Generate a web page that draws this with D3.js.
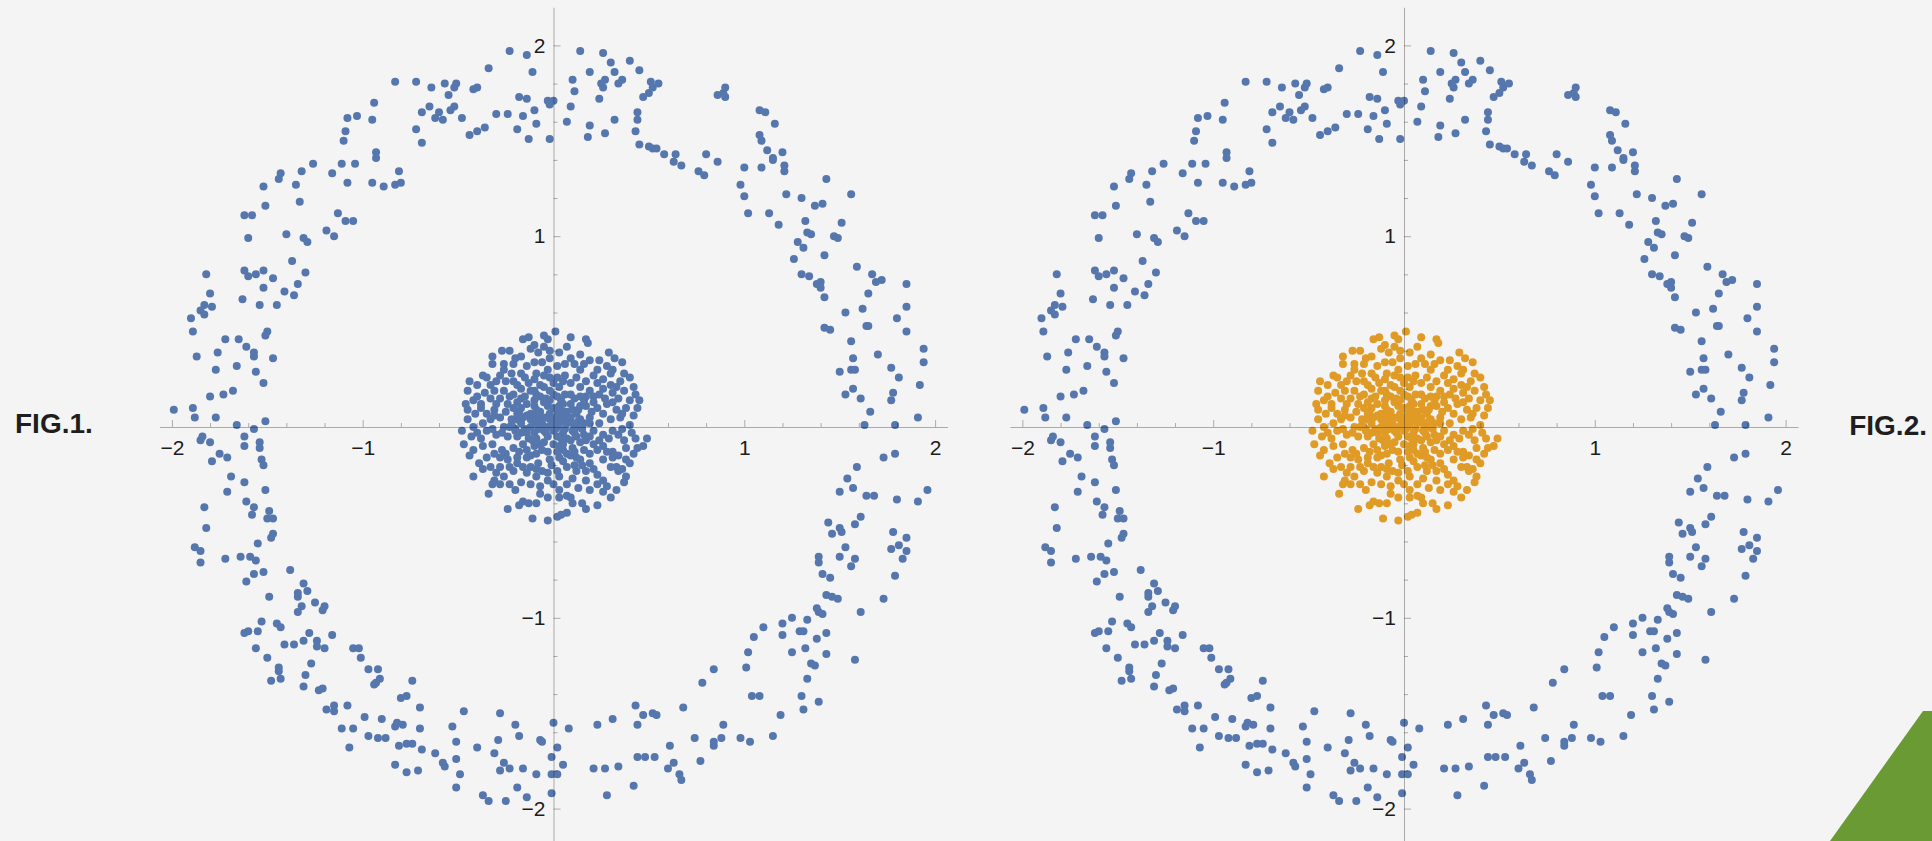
<!DOCTYPE html>
<html>
<head>
<meta charset="utf-8">
<script src="https://cdn.jsdelivr.net/npm/d3@7"></script>
<style>
  html, body { margin: 0; padding: 0; background: #f4f4f4; }
  svg { display: block; }
</style>
</head>
<body>
<svg id="chart" width="1932" height="841"></svg>
<script>
// Outer ring samples, split by quadrant
const ringNW = [[-0.23,1.97],[-0.14,1.95],[-0.11,1.86],[-0.34,1.88],[-0.83,1.81],[-0.72,1.81],[-0.64,1.78],[-0.57,1.80],[-0.51,1.80],[-0.52,1.78],[-0.55,1.74],[-0.42,1.77],[-0.40,1.78],[-0.18,1.73],[-0.14,1.72],[-0.03,1.71],[0.00,1.71],[-0.02,1.69],[-0.94,1.70],[-0.65,1.68],[-0.69,1.65],[-0.60,1.65],[-0.62,1.62],[-0.58,1.61],[-0.54,1.66],[-0.52,1.68],[-0.48,1.62],[-0.30,1.64],[-0.24,1.64],[-0.16,1.63],[-0.10,1.66],[-0.09,1.59],[-0.19,1.56],[-0.13,1.51],[-0.02,1.51],[-0.44,1.53],[-0.40,1.55],[-0.36,1.57],[-0.72,1.56],[-0.69,1.49],[-1.08,1.62],[-1.03,1.63],[-0.95,1.61],[-1.09,1.55],[-1.10,1.50],[-0.93,1.44],[-0.93,1.41],[-1.26,1.38],[-1.32,1.34],[-1.43,1.33],[-1.44,1.30],[-1.52,1.26],[-1.35,1.27],[-1.16,1.33],[-1.11,1.38],[-1.04,1.38],[-1.08,1.28],[-0.95,1.28],[-0.89,1.26],[-0.83,1.27],[-0.80,1.28],[-0.81,1.34],[-1.33,1.18],[-1.51,1.16],[-1.62,1.11],[-1.58,1.11],[-1.60,0.99],[-1.40,1.01],[-1.31,0.99],[-1.29,0.97],[-1.19,1.03],[-1.15,1.00],[-1.13,1.12],[-1.09,1.08],[-1.05,1.08],[-1.37,0.87],[-1.62,0.82],[-1.60,0.79],[-1.56,0.80],[-1.52,0.82],[-1.47,0.78],[-1.30,0.81],[-1.52,0.73],[-1.41,0.71],[-1.36,0.69],[-1.34,0.75],[-1.63,0.67],[-1.54,0.64],[-1.45,0.64],[-1.82,0.80],[-1.80,0.70],[-1.83,0.64],[-1.79,0.63],[-1.85,0.61],[-1.83,0.59],[-1.90,0.57],[-1.89,0.50],[-1.72,0.46],[-1.65,0.46],[-1.61,0.42],[-1.57,0.39],[-1.57,0.37],[-1.50,0.50],[-1.51,0.48],[-1.47,0.36],[-1.87,0.37],[-1.76,0.39],[-1.77,0.30],[-1.66,0.32],[-1.56,0.29],[-1.52,0.23],[-1.80,0.16],[-1.73,0.17],[-1.68,0.19],[-1.99,0.09],[-1.89,0.10],[-1.88,0.05],[-1.77,0.05],[-1.66,0.01],[-1.51,0.03],[-1.57,-0.01]];

const ringNE = [[0.14,1.97],[0.26,1.96],[0.30,1.91],[0.40,1.92],[0.19,1.86],[0.32,1.86],[0.45,1.87],[0.10,1.82],[0.25,1.80],[0.27,1.82],[0.36,1.82],[0.34,1.80],[0.26,1.78],[0.11,1.76],[0.51,1.81],[0.55,1.80],[0.52,1.78],[0.50,1.75],[0.47,1.73],[0.24,1.72],[0.09,1.68],[0.44,1.65],[0.44,1.61],[0.32,1.61],[0.07,1.60],[0.19,1.58],[0.18,1.52],[0.27,1.54],[0.43,1.55],[0.45,1.48],[0.50,1.47],[0.52,1.46],[0.54,1.46],[0.58,1.43],[0.64,1.43],[0.63,1.39],[0.67,1.37],[0.76,1.34],[0.79,1.32],[0.80,1.43],[0.86,1.39],[0.86,1.74],[0.89,1.75],[0.90,1.78],[0.90,1.73],[1.08,1.66],[1.11,1.65],[1.16,1.59],[1.08,1.53],[1.09,1.50],[1.12,1.45],[1.20,1.44],[1.15,1.41],[1.15,1.40],[1.21,1.37],[1.21,1.34],[1.09,1.36],[1.00,1.36],[0.98,1.27],[1.00,1.21],[1.02,1.12],[1.13,1.12],[1.18,1.06],[1.22,1.22],[1.30,1.20],[1.37,1.16],[1.41,1.17],[1.43,1.30],[1.56,1.22],[1.32,1.08],[1.33,1.02],[1.35,1.01],[1.28,0.97],[1.31,0.94],[1.26,0.88],[1.42,0.90],[1.47,1.00],[1.49,0.99],[1.51,1.07],[1.30,0.80],[1.34,0.79],[1.40,0.76],[1.38,0.75],[1.40,0.73],[1.42,0.68],[1.59,0.84],[1.67,0.80],[1.69,0.76],[1.72,0.77],[1.65,0.70],[1.85,0.75],[1.62,0.62],[1.85,0.63],[1.80,0.57],[1.53,0.60],[1.64,0.53],[1.65,0.53],[1.42,0.52],[1.45,0.51],[1.85,0.50],[1.56,0.45],[1.70,0.38],[1.94,0.41],[1.94,0.34],[1.50,0.29],[1.56,0.30],[1.58,0.30],[1.57,0.36],[1.77,0.31],[1.81,0.26],[1.92,0.22],[1.53,0.17],[1.57,0.20],[1.61,0.15],[1.78,0.18],[1.77,0.14],[1.66,0.08],[1.91,0.05],[1.63,0.01],[1.79,0.01]];

const ringSE = [[1.73,-0.16],[1.79,-0.14],[1.59,-0.21],[1.54,-0.27],[1.57,-0.32],[1.50,-0.34],[1.64,-0.36],[1.68,-0.36],[1.80,-0.38],[1.96,-0.33],[1.91,-0.39],[1.61,-0.47],[1.58,-0.51],[1.44,-0.50],[1.46,-0.56],[1.50,-0.53],[1.51,-0.55],[1.53,-0.63],[1.50,-0.68],[1.58,-0.69],[1.56,-0.73],[1.78,-0.55],[1.85,-0.58],[1.77,-0.64],[1.81,-0.62],[1.85,-0.65],[1.83,-0.69],[1.79,-0.78],[1.39,-0.68],[1.39,-0.71],[1.41,-0.77],[1.45,-0.79],[1.43,-0.88],[1.46,-0.89],[1.49,-0.90],[1.73,-0.90],[1.61,-0.97],[1.38,-0.95],[1.39,-0.97],[1.41,-0.98],[1.25,-1.00],[1.20,-1.03],[1.33,-1.01],[1.29,-1.07],[1.31,-1.07],[1.20,-1.09],[1.43,-1.08],[1.38,-1.11],[1.32,-1.16],[1.25,-1.18],[1.43,-1.19],[1.35,-1.24],[1.37,-1.25],[1.58,-1.22],[1.33,-1.32],[1.30,-1.41],[1.31,-1.48],[1.39,-1.44],[1.05,-1.10],[1.10,-1.05],[1.02,-1.18],[1.01,-1.26],[1.04,-1.41],[1.08,-1.41],[0.84,-1.27],[0.78,-1.34],[1.19,-1.51],[1.15,-1.62],[0.98,-1.63],[1.03,-1.65],[0.89,-1.56],[0.88,-1.63],[0.84,-1.65],[0.84,-1.67],[0.74,-1.63],[0.68,-1.47],[0.77,-1.75],[0.61,-1.67],[0.63,-1.76],[0.60,-1.79],[0.66,-1.82],[0.67,-1.85],[0.43,-1.46],[0.44,-1.56],[0.47,-1.51],[0.52,-1.50],[0.54,-1.51],[0.31,-1.53],[0.23,-1.56],[0.08,-1.58],[0.44,-1.73],[0.48,-1.73],[0.53,-1.73],[0.34,-1.78],[0.27,-1.79],[0.21,-1.79],[0.42,-1.88],[0.28,-1.93],[0.05,-1.77]];

const ringSW = [[-1.85,-0.07],[-1.84,-0.05],[-1.80,-0.08],[-1.79,-0.18],[-1.75,-0.14],[-1.71,-0.16],[-1.62,-0.05],[-1.62,-0.10],[-1.54,-0.08],[-1.54,-0.11],[-1.53,-0.17],[-1.52,-0.20],[-1.69,-0.26],[-1.71,-0.34],[-1.62,-0.29],[-1.61,-0.39],[-1.57,-0.42],[-1.58,-0.46],[-1.51,-0.33],[-1.49,-0.44],[-1.50,-0.48],[-1.47,-0.48],[-1.47,-0.56],[-1.48,-0.58],[-1.83,-0.42],[-1.82,-0.53],[-1.88,-0.63],[-1.85,-0.65],[-1.85,-0.71],[-1.72,-0.69],[-1.64,-0.68],[-1.59,-0.68],[-1.56,-0.70],[-1.55,-0.61],[-1.52,-0.76],[-1.57,-0.77],[-1.61,-0.81],[-1.38,-0.75],[-1.49,-0.89],[-1.31,-0.82],[-1.29,-0.86],[-1.34,-0.87],[-1.34,-0.89],[-1.25,-0.92],[-1.20,-0.94],[-1.21,-0.96],[-1.32,-0.94],[-1.34,-0.97],[-1.53,-1.02],[-1.45,-1.03],[-1.43,-1.05],[-1.62,-1.08],[-1.60,-1.07],[-1.55,-1.07],[-1.56,-1.16],[-1.50,-1.21],[-1.41,-1.14],[-1.36,-1.14],[-1.31,-1.12],[-1.28,-1.08],[-1.24,-1.12],[-1.24,-1.15],[-1.20,-1.16],[-1.16,-1.09],[-1.27,-1.24],[-1.44,-1.26],[-1.44,-1.28],[-1.48,-1.33],[-1.43,-1.32],[-1.30,-1.30],[-1.31,-1.36],[-1.23,-1.38],[-1.21,-1.37],[-1.05,-1.16],[-1.02,-1.16],[-1.01,-1.21],[-0.97,-1.27],[-0.92,-1.27],[-0.91,-1.32],[-0.93,-1.34],[-0.94,-1.35],[-0.74,-1.33],[-0.80,-1.42],[-0.77,-1.41],[-1.19,-1.48],[-1.15,-1.46],[-1.15,-1.49],[-1.08,-1.46],[-1.11,-1.58],[-1.05,-1.58],[-1.07,-1.68],[-0.99,-1.52],[-0.97,-1.62],[-0.92,-1.63],[-0.88,-1.63],[-0.90,-1.53],[-0.83,-1.57],[-0.82,-1.55],[-0.79,-1.56],[-0.70,-1.47],[-0.70,-1.58],[-0.81,-1.67],[-0.77,-1.66],[-0.74,-1.66],[-0.69,-1.69],[-0.83,-1.77],[-0.77,-1.81],[-0.71,-1.80],[-0.62,-1.71],[-0.58,-1.76],[-0.57,-1.78],[-0.53,-1.57],[-0.47,-1.49],[-0.51,-1.65],[-0.51,-1.74],[-0.49,-1.82],[-0.51,-1.89],[-0.40,-1.68],[-0.31,-1.71],[-0.26,-1.76],[-0.23,-1.79],[-0.28,-1.80],[-0.16,-1.79],[-0.29,-1.64],[-0.18,-1.62],[-0.20,-1.56],[-0.28,-1.50],[-0.09,-1.82],[-0.07,-1.64],[-0.06,-1.65],[0.00,-1.55],[-0.01,-1.73],[0.02,-1.68],[-0.01,-1.82],[0.02,-1.82],[-0.01,-1.92],[-0.19,-1.89],[-0.14,-1.94],[-0.37,-1.93],[-0.34,-1.96],[-0.25,-1.96]];

// Inner disc samples
const corePoints = [[0.01,0.50],[-0.05,0.48],[-0.03,0.46],[-0.13,0.47],[-0.16,0.46],[0.09,0.47],[0.17,0.46],[0.18,0.44],[-0.10,0.43],[-0.05,0.42],
[-0.32,0.37],[-0.27,0.40],[-0.23,0.40],[-0.17,0.37],[-0.02,0.40],[0.03,0.39],[0.07,0.42],[0.14,0.38],[0.29,0.39],[0.32,0.36],[0.36,0.34],[-0.08,0.39],[-0.12,0.41],
[-0.32,0.33],[-0.26,0.33],[-0.21,0.33],[-0.10,0.34],[-0.03,0.30],[0.02,0.32],[0.06,0.33],[0.11,0.33],[0.16,0.33],[0.19,0.35],[0.28,0.32],[0.31,0.30],[0.23,0.30],[-0.26,0.30],[-0.17,0.28],[-0.37,0.27],[-0.09,0.28],[0.30,0.28],[0.37,0.28],
[-0.44,0.24],[-0.35,0.26],[-0.30,0.24],[-0.25,0.24],[-0.21,0.24],[-0.15,0.26],[-0.10,0.25],[-0.02,0.26],[0.02,0.26],[0.06,0.27],[0.09,0.23],[0.17,0.24],[0.23,0.23],[0.26,0.20],[0.30,0.22],[0.33,0.21],[0.40,0.26],[0.42,0.21],
[-0.45,0.19],[-0.40,0.16],[-0.36,0.18],[-0.31,0.19],[-0.26,0.19],[-0.17,0.20],[-0.12,0.19],[-0.07,0.16],[-0.02,0.19],[0.03,0.21],[0.09,0.17],[0.14,0.16],[0.19,0.19],[0.24,0.17],[0.31,0.18],[0.37,0.19],[0.43,0.17],[0.45,0.14],[-0.46,0.12],[-0.38,0.12],
[-0.45,0.09],[-0.38,0.10],[-0.35,0.07],[-0.30,0.12],[-0.24,0.12],[-0.19,0.13],[-0.14,0.12],[-0.09,0.09],[-0.03,0.11],[0.00,0.10],[0.05,0.12],[0.10,0.09],[0.17,0.11],[0.23,0.10],[0.28,0.12],[0.33,0.09],[0.38,0.10],[0.44,0.10],[0.31,0.13],
[-0.45,0.04],[-0.42,0.00],[-0.33,0.04],[-0.28,0.05],[-0.22,0.04],[-0.17,0.02],[-0.12,0.04],[-0.07,0.04],[-0.02,0.04],[0.03,0.02],[0.09,0.05],[0.14,0.04],[0.19,0.05],[0.24,0.02],[0.30,0.04],[0.35,0.05],[0.40,0.01],[-0.19,0.07],[-0.09,0.06],[0.02,0.06],
[-0.48,-0.02],[-0.47,-0.09],[-0.40,-0.03],[-0.35,-0.02],[-0.30,-0.04],[-0.24,-0.05],[-0.20,-0.02],[-0.15,-0.01],[-0.10,-0.03],[-0.05,-0.02],[0.00,-0.02],[0.05,-0.03],[0.10,-0.02],[0.16,-0.04],[0.21,-0.02],[0.26,-0.04],[0.31,-0.02],[0.36,-0.01],[0.41,-0.03],[0.49,-0.06],[0.37,-0.07],
[-0.42,-0.12],[-0.37,-0.10],[-0.32,-0.09],[-0.27,-0.12],[-0.21,-0.11],[-0.16,-0.09],[-0.10,-0.10],[-0.05,-0.08],[0.00,-0.09],[0.05,-0.09],[0.10,-0.11],[0.16,-0.12],[0.21,-0.09],[0.26,-0.10],[0.31,-0.13],[0.38,-0.11],[0.44,-0.11],[0.47,-0.10],
[-0.39,-0.19],[-0.35,-0.16],[-0.28,-0.16],[-0.24,-0.17],[-0.19,-0.16],[-0.14,-0.16],[-0.08,-0.19],[-0.02,-0.17],[0.03,-0.16],[0.09,-0.15],[0.14,-0.17],[0.19,-0.19],[0.26,-0.17],[0.31,-0.16],[0.38,-0.17],[0.33,-0.21],[0.40,-0.19],
[-0.42,-0.26],[-0.37,-0.22],[-0.31,-0.28],[-0.26,-0.26],[-0.21,-0.23],[-0.14,-0.24],[-0.09,-0.26],[-0.03,-0.24],[0.02,-0.23],[0.12,-0.23],[0.17,-0.23],[0.23,-0.25],[0.26,-0.28],[0.34,-0.23],[0.38,-0.26],
[-0.34,-0.35],[-0.32,-0.30],[-0.28,-0.30],[-0.23,-0.30],[-0.17,-0.29],[-0.03,-0.28],[0.23,-0.30],[0.28,-0.31],[0.33,-0.33],[0.37,-0.29],[0.03,-0.33],[0.07,-0.36],[0.09,-0.37],[-0.07,-0.35],
[-0.24,-0.43],[-0.18,-0.41],[-0.16,-0.39],[-0.13,-0.40],[-0.03,-0.37],[0.03,-0.37],[0.10,-0.40],[0.15,-0.40],[0.17,-0.43],[0.23,-0.41],[0.30,-0.37],
[-0.11,-0.48],[-0.03,-0.49],[0.02,-0.47],[0.04,-0.46],[0.07,-0.45],
[-0.19,0.04],[-0.16,0.05],[-0.12,0.00],[-0.09,0.02],[-0.05,0.05],[-0.03,0.00],[0.00,0.04],[0.02,0.00],[0.05,0.05],[0.07,0.02],[0.10,0.02],[0.12,0.00],[0.16,0.02],[0.19,0.02],
[-0.14,-0.03],[-0.09,-0.06],[-0.03,-0.05],[0.02,-0.05],[0.07,-0.06],[0.12,-0.05],[0.17,-0.07],[-0.19,-0.05],[-0.10,0.14],[-0.05,0.13],[0.03,0.11],[0.09,0.12],[0.14,0.11],[-0.17,0.10],[-0.12,0.07],[-0.02,0.07],[0.07,0.08],[0.12,0.07],
[-0.14,-0.12],[-0.09,-0.14],[-0.03,-0.13],[0.02,-0.13],[0.07,-0.14],[0.12,-0.16],[-0.23,0.00],[-0.26,0.00],[-0.07,-0.09],[0.03,-0.10],[-0.02,0.14],[-0.10,0.19],[-0.05,0.21],[0.14,0.21],[0.16,0.14],[0.21,0.13],[0.02,0.16],[0.06,0.17],[-0.17,0.15],[-0.23,0.16],
[-0.19,-0.19],[-0.12,-0.21],[0.07,-0.21],[-0.06,-0.23],[0.03,-0.26],[0.10,-0.27],[0.17,-0.28],[-0.33,-0.21],[-0.28,-0.21],[-0.37,0.02],[-0.31,0.09],
[-0.22,0.01],[-0.20,-0.01],[-0.14,0.06],[-0.11,0.03],[-0.08,-0.01],[-0.06,0.02],[-0.04,-0.03],[-0.01,0.01],[0.01,-0.01],[0.04,0.03],[0.06,-0.01],[0.08,0.05],[0.11,-0.03],[0.13,0.03],[0.15,-0.01],[-0.18,0.08],[-0.13,-0.06],[-0.07,0.08],[0.05,0.08],[0.09,-0.07],
[-0.40,0.22],[-0.33,0.22],[-0.28,0.27],[-0.22,0.28],[-0.19,0.22],[-0.13,0.23],[-0.07,0.22],[-0.05,0.27],[0.00,0.23],[0.05,0.24],[0.12,0.26],[0.14,0.30],[0.21,0.27],[0.26,0.25],[0.35,0.24],
[-0.42,0.14],[-0.33,0.15],[-0.28,0.15],[-0.21,0.17],[-0.15,0.16],[-0.09,0.17],[-0.04,0.15],[0.00,0.17],[0.04,0.14],[0.11,0.15],[0.17,0.16],[0.21,0.16],[0.27,0.15],[0.34,0.15],[0.40,0.14],
[-0.41,0.07],[-0.31,0.06],[-0.25,0.08],[-0.21,0.10],[-0.10,0.11],[0.02,0.09],[0.13,0.09],[0.20,0.08],[0.26,0.07],[0.36,0.07],[0.42,0.06],
[-0.43,-0.05],[-0.38,-0.06],[-0.32,-0.01],[-0.27,-0.03],[-0.17,-0.03],[-0.11,-0.07],[0.04,-0.06],[0.14,-0.08],[0.19,-0.05],[0.24,-0.07],[0.29,-0.06],[0.34,-0.04],[0.43,-0.06],
[-0.44,-0.15],[-0.31,-0.14],[-0.25,-0.14],[-0.18,-0.13],[-0.12,-0.15],[-0.06,-0.12],[0.05,-0.12],[0.11,-0.13],[0.19,-0.14],[0.23,-0.12],[0.28,-0.13],[0.34,-0.15],[0.42,-0.14],
[-0.30,-0.24],[-0.23,-0.21],[-0.16,-0.21],[-0.09,-0.22],[-0.01,-0.20],[0.05,-0.18],[0.11,-0.20],[0.15,-0.20],[0.21,-0.22],[0.30,-0.21],[0.36,-0.22],
[-0.20,-0.33],[-0.12,-0.30],[-0.07,-0.31],[0.00,-0.30],[0.07,-0.30],[0.13,-0.32],[0.19,-0.33],[-0.09,-0.40],[0.26,-0.34],
[-0.20,0.36],[-0.14,0.32],[-0.06,0.34],[0.09,0.36],[0.24,0.35],[-0.02,0.36]];

const ringPoints = [...ringNW, ...ringNE, ...ringSE, ...ringSW];

const majorTicks = [-2, -1, 1, 2];
const tickLabels = ["\u22122", "\u22121", "1", "2"];
const minorTicks = [-1.8, -1.6, -1.4, -1.2, -0.8, -0.6, -0.4, -0.2, 0.2, 0.4, 0.6, 0.8, 1.2, 1.4, 1.6, 1.8];
const panelTitles = ["FIG.1.", "FIG.2."];
const ringColor = "#5677ae";
const coreColors = ["#5677ae", "#df9b26"];

const W = 1932, H = 841;
const svg = d3.select("#chart");
svg.append("rect").attr("width", W).attr("height", H).attr("fill", "#f4f4f4");

// pixels per data unit, shared by both panels and both axes
const unit = 190.8;
const originY = 427;
const xExtent = 2.065, yExtent = 2.2;
const panels = [
  { cx: 553.5, core: coreColors[0] },
  { cx: 1404, core: coreColors[1] }
];
const dotR = 4;

const labelFont = "'Liberation Sans', Arial, Helvetica, sans-serif";
const fmt = v => tickLabels[majorTicks.indexOf(v)];

panels.forEach(p => {
  const x = d3.scaleLinear().domain([-xExtent, xExtent])
    .range([p.cx - xExtent * unit, p.cx + xExtent * unit]);
  const y = d3.scaleLinear().domain([yExtent, -yExtent])
    .range([originY - yExtent * unit, originY + yExtent * unit]);

  const g = svg.append("g");

  g.append("g").selectAll("circle").data(ringPoints).join("circle")
    .attr("cx", d => x(d[0])).attr("cy", d => y(d[1]))
    .attr("r", dotR).attr("fill", ringColor);

  g.append("g").selectAll("circle").data(corePoints).join("circle")
    .attr("cx", d => x(d[0])).attr("cy", d => y(d[1]))
    .attr("r", dotR).attr("fill", p.core);

  // axes cross at the origin; ticks point into the upper / right half
  const xMinor = g.append("g").attr("transform", `translate(0,${y(0)})`)
    .call(d3.axisBottom(x).tickValues(minorTicks).tickSizeInner(-4).tickSizeOuter(0).tickFormat(""));
  xMinor.select(".domain").remove();
  g.append("g").attr("transform", `translate(0,${y(0)})`)
    .call(d3.axisBottom(x).tickValues(majorTicks).tickSizeInner(-7).tickSizeOuter(0)
      .tickPadding(13).tickFormat(fmt));

  const yMinor = g.append("g").attr("transform", `translate(${x(0)},0)`)
    .call(d3.axisLeft(y).tickValues(minorTicks).tickSizeInner(-4).tickSizeOuter(0).tickFormat(""));
  yMinor.select(".domain").remove();
  g.append("g").attr("transform", `translate(${x(0)},0)`)
    .call(d3.axisLeft(y).tickValues(majorTicks).tickSizeInner(-7).tickSizeOuter(0)
      .tickPadding(8).tickFormat(fmt));

  g.selectAll(".domain, .tick line")
    .attr("stroke", "#000").attr("stroke-opacity", 0.3).attr("stroke-width", 1);
  g.selectAll(".tick text")
    .attr("font-family", labelFont).attr("font-size", 21).attr("fill", "#1c1c1c");
});

// figure captions
svg.append("text").attr("x", 15).attr("y", 433)
  .attr("font-family", labelFont).attr("font-weight", "bold").attr("font-size", 28)
  .attr("fill", "#1e1e1e").text(panelTitles[0]);
svg.append("text").attr("x", 1927).attr("y", 435).attr("text-anchor", "end")
  .attr("font-family", labelFont).attr("font-weight", "bold").attr("font-size", 28)
  .attr("fill", "#1e1e1e").text(panelTitles[1]);

// corner accent
svg.append("polygon")
  .attr("points", "1923,711 1932,711 1932,841 1830,841")
  .attr("fill", "#6a9a33");
</script>
</body>
</html>
